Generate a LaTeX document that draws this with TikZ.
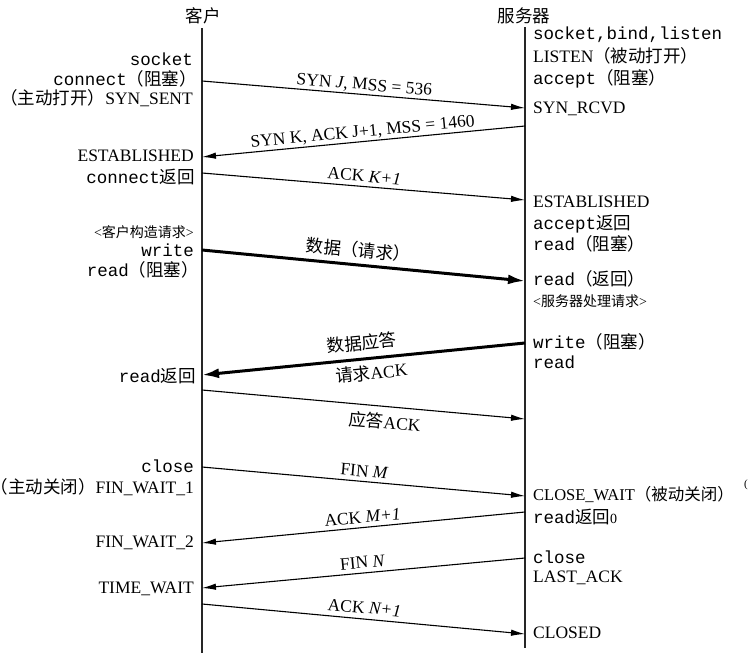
\documentclass[tikz,border=0pt]{standalone}
\usepackage{fontspec}
\setmainfont{Liberation Serif}
\setmonofont{Liberation Mono}
\newfontfamily\cjk{Noto Sans CJK SC}
\usetikzlibrary{arrows.meta}
\newcommand{\zh}[1]{{\cjk #1}}
\newcommand{\mn}[1]{{\ttfamily #1}}
\newcommand{\mainsz}{\fontsize{17.5pt}{20pt}\selectfont}
\newcommand{\smallsz}{\fontsize{14pt}{16pt}\selectfont}
\newcommand{\tinysz}{\fontsize{11pt}{12pt}\selectfont}
\newcommand{\cwsz}{\fontsize{16.5pt}{20pt}\selectfont}
\tikzset{
  txt/.style={inner sep=0pt, text height=11pt, text depth=0pt, font=\mainsz},
  lt/.style={txt, anchor=east},
  rt/.style={txt, anchor=west},
  ttl/.style={txt},
  life/.style={line width=1.2pt, black!85},
  msg/.style={line width=1.1pt, -{Latex[length=14pt,width=6.5pt]}},
  bigmsg/.style={line width=3pt, -{Latex[length=17pt,width=10pt]}},
  lbl/.style={txt, sloped}
}
\begin{document}
\begin{tikzpicture}[x=1pt,y=-1pt]
\useasboundingbox (0,0) rectangle (748,653);
% titles
\node[ttl] (tc) at (203,17) {\zh{客户}};
\node[ttl] (ts) at (524,17) {\zh{服务器}};
% lifelines
\coordinate (ctop) at (202,28); \coordinate (cbot) at (202,653);
\coordinate (stop) at (525,27); \coordinate (sbot) at (525,648);
\draw[life] (ctop) -- (cbot);
\draw[life] (stop) -- (sbot);
% message end points
\coordinate (c1) at (202,81);  \coordinate (s1) at (525,108);
\coordinate (s2) at (525,126); \coordinate (c2) at (202,157);
\coordinate (c3) at (202,173); \coordinate (s3) at (525,200);
\coordinate (c4) at (202,250); \coordinate (s4) at (525,281);
\coordinate (s5) at (525,343); \coordinate (c5) at (202,375);
\coordinate (c6) at (202,390); \coordinate (s6) at (525,419);
\coordinate (c7) at (202,467); \coordinate (s7) at (525,496);
\coordinate (s8) at (525,512); \coordinate (c8) at (202,543);
\coordinate (s9) at (525,558); \coordinate (c9) at (202,588);
\coordinate (c10) at (202,604); \coordinate (s10) at (525,634);
% messages
\draw[msg] (c1) -- node[lbl, above=4pt, pos=0.5] (m1) {SYN \textit{J}, MSS = 536} (s1);
\draw[msg] (s2) -- node[lbl, above=4pt, pos=0.5] (m2) {SYN K, ACK J+1, MSS = 1460} (c2);
\draw[msg] (c3) -- node[lbl, above=4pt, pos=0.5] (m3) {ACK \textit{K+1}} (s3);
\draw[bigmsg] (c4) -- node[lbl, above=7pt, pos=0.48] (m4) {\zh{数据（请求）}} (s4);
\draw[bigmsg] (s5) -- node[lbl, above=8pt, pos=0.5] (m5) {\zh{数据应答}}
                      node[lbl, below=8.5pt, pos=0.48] (m5b) {\zh{请求}ACK} (c5);
\draw[msg] (c6) -- node[lbl, below=10.5pt, pos=0.57] (m6) {\zh{应答}ACK} (s6);
\draw[msg] (c7) -- node[lbl, above=4pt, pos=0.5] (m7) {FIN \textit{M}} (s7);
\draw[msg] (s8) -- node[lbl, above=4pt, pos=0.5] (m8) {ACK \textit{M+1}} (c8);
\draw[msg] (s9) -- node[lbl, above=4.5pt, pos=0.5] (m9) {FIN \textit{N}} (c9);
\draw[msg] (c10) -- node[lbl, above=5pt, pos=0.5] (m10) {ACK \textit{N+1}} (s10);
% client side texts
\node[lt] (l1) at (193,60) {\mn{socket}};
\node[lt] (l2) at (197,80) {\mn{connect}\zh{（阻塞）}};
\node[lt] (l3) at (193,99) {\zh{（主动打开）}SYN\_SENT};
\node[lt] (l4) at (194,156) {ESTABLISHED};
\node[lt] (l5) at (195,178) {\mn{connect}\zh{返回}};
\node[lt, font=\smallsz] (l6) at (194,232) {<\zh{客户构造请求}>};
\node[lt] (l7) at (194,251) {\mn{write}};
\node[lt] (l8) at (199,271) {\mn{read}\zh{（阻塞）}};
\node[lt] (l9) at (196,377) {\mn{read}\zh{返回}};
\node[lt] (l10) at (194,467) {\mn{close}};
\node[lt] (l11) at (194,488) {\zh{（主动关闭）}FIN\_WAIT\_1};
\node[lt] (l12) at (194,542) {FIN\_WAIT\_2};
\node[lt] (l13) at (194,588) {TIME\_WAIT};
% server side texts
\node[rt] (r1) at (533,34) {\mn{socket,bind,listen}};
\node[rt] (r2) at (533,57) {LISTEN\zh{（被动打开）}};
\node[rt] (r3) at (533,79) {\mn{accept}\zh{（阻塞）}};
\node[rt] (r4) at (533,108) {SYN\_RCVD};
\node[rt] (r5) at (533,202) {ESTABLISHED};
\node[rt] (r6) at (533,224) {\mn{accept}\zh{返回}};
\node[rt] (r7) at (533,245) {\mn{read}\zh{（阻塞）}};
\node[rt] (r8) at (533,280) {\mn{read}\zh{（返回）}};
\node[rt, font=\smallsz] (r9) at (533,301) {<\zh{服务器处理请求}>};
\node[rt] (r10) at (533,343) {\mn{write}\zh{（阻塞）}};
\node[rt] (r11) at (533,363) {\mn{read}};
\node[rt, font=\cwsz] (r12) at (533,495) {CLOSE\_WAIT\zh{（被动关闭）}};
\node[rt, font=\tinysz, text height=7pt] (r12b) at (744,484) {(};
\node[rt] (r13) at (533,518) {\mn{read}\zh{返回}{\smallsz 0}};
\node[rt] (r14) at (533,558) {\mn{close}};
\node[rt] (r15) at (533,577) {LAST\_ACK};
\node[rt] (r16) at (533,633) {CLOSED};
\end{tikzpicture}
\end{document}
